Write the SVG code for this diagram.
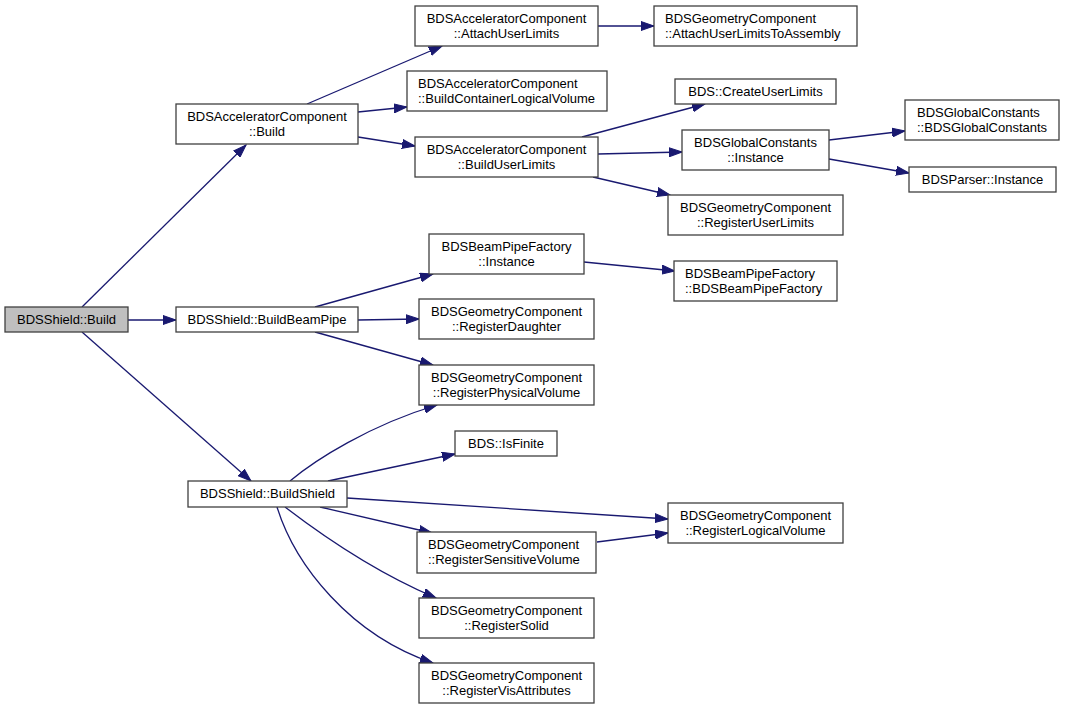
<svg xmlns="http://www.w3.org/2000/svg" width="1065" height="709" viewBox="0 0 1065 709">
<style>
.n rect{fill:#fff;stroke:#404040;stroke-width:1.3}
.n.root rect{fill:#bfbfbf}
.n text{font-family:"Liberation Sans",Arial,sans-serif;font-size:13px;fill:#000}
.c{text-anchor:middle}
.l{text-anchor:start}
.e path{fill:none;stroke:#191970;stroke-width:1.3;marker-end:url(#a)}
</style>
<defs>
<marker id="a" markerWidth="14" markerHeight="10" refX="13" refY="5" orient="auto" markerUnits="userSpaceOnUse">
<path d="M0,0.5 L13,5 L0,9.5 z" fill="#191970" stroke="#191970" stroke-width="1"/>
</marker>
</defs>
<rect width="1065" height="709" fill="#fff"/>
<g id="edges" class="e">
<path d="M82,307 L246,145"/>
<path d="M128,320 L176,320"/>
<path d="M82,332 L251,481"/>
<path d="M307,104 L442,46"/>
<path d="M358,112 L407,107"/>
<path d="M358,137 L415,146"/>
<path d="M598,26 L654,26"/>
<path d="M582,137 L705,104"/>
<path d="M598,154 L682,152"/>
<path d="M593,177 L670,195"/>
<path d="M829,140 L905,131"/>
<path d="M829,159 L909,173"/>
<path d="M315,307 L433,274"/>
<path d="M584,262 L675,271"/>
<path d="M358,320 L419,319"/>
<path d="M315,332 L433,365"/>
<path d="M290,481 C315,460 370,425 437,405"/>
<path d="M328,481 L455,454"/>
<path d="M347,498 L668,519"/>
<path d="M320,507 L432,533"/>
<path d="M597,542 L668,533"/>
<path d="M285,507 C315,530 370,570 436,598"/>
<path d="M277,507 C295,565 350,635 433,663"/>
</g>
<g id="n_root" class="n root"><rect x="5" y="307" width="123" height="25"/><text class="c" x="66.5" y="324">BDSShield::Build</text></g>
<g id="n_acc_build" class="n"><rect x="176" y="104" width="182" height="40"/><text class="c" x="267" y="121">BDSAcceleratorComponent</text><text class="c" x="267" y="136">::Build</text></g>
<g id="n_beampipe" class="n"><rect x="176" y="307" width="182" height="25"/><text class="c" x="267" y="324">BDSShield::BuildBeamPipe</text></g>
<g id="n_shield" class="n"><rect x="188" y="481" width="159" height="26"/><text class="c" x="267.5" y="498">BDSShield::BuildShield</text></g>
<g id="n_attach" class="n"><rect x="415" y="6" width="183" height="40"/><text class="c" x="506.5" y="23">BDSAcceleratorComponent</text><text class="c" x="506.5" y="38">::AttachUserLimits</text></g>
<g id="n_container" class="n"><rect x="407" y="71" width="200" height="40"/><text class="l" x="418" y="88">BDSAcceleratorComponent</text><text class="l" x="418" y="103">::BuildContainerLogicalVolume</text></g>
<g id="n_buildul" class="n"><rect x="415" y="137" width="183" height="40"/><text class="c" x="506.5" y="154">BDSAcceleratorComponent</text><text class="c" x="506.5" y="169">::BuildUserLimits</text></g>
<g id="n_attachasm" class="n"><rect x="654" y="6" width="203" height="40"/><text class="l" x="665" y="23">BDSGeometryComponent</text><text class="l" x="665" y="38">::AttachUserLimitsToAssembly</text></g>
<g id="n_createul" class="n"><rect x="675" y="79" width="161" height="25"/><text class="c" x="755.5" y="96">BDS::CreateUserLimits</text></g>
<g id="n_gcinst" class="n"><rect x="682" y="130" width="147" height="40"/><text class="c" x="755.5" y="147">BDSGlobalConstants</text><text class="c" x="755.5" y="162">::Instance</text></g>
<g id="n_regul" class="n"><rect x="668" y="195" width="175" height="40"/><text class="c" x="755.5" y="212">BDSGeometryComponent</text><text class="c" x="755.5" y="227">::RegisterUserLimits</text></g>
<g id="n_gcgc" class="n"><rect x="905" y="100" width="154" height="40"/><text class="l" x="917" y="117">BDSGlobalConstants</text><text class="l" x="917" y="132">::BDSGlobalConstants</text></g>
<g id="n_parser" class="n"><rect x="909" y="167" width="147" height="25"/><text class="c" x="982.5" y="184">BDSParser::Instance</text></g>
<g id="n_bpfinst" class="n"><rect x="429" y="234" width="155" height="40"/><text class="c" x="506.5" y="251">BDSBeamPipeFactory</text><text class="c" x="506.5" y="266">::Instance</text></g>
<g id="n_bpfbpf" class="n"><rect x="674" y="261" width="163" height="40"/><text class="l" x="685" y="278">BDSBeamPipeFactory</text><text class="l" x="685" y="293">::BDSBeamPipeFactory</text></g>
<g id="n_regdau" class="n"><rect x="419" y="299" width="175" height="40"/><text class="c" x="506.5" y="316">BDSGeometryComponent</text><text class="c" x="506.5" y="331">::RegisterDaughter</text></g>
<g id="n_regpv" class="n"><rect x="419" y="365" width="175" height="40"/><text class="c" x="506.5" y="382">BDSGeometryComponent</text><text class="c" x="506.5" y="397">::RegisterPhysicalVolume</text></g>
<g id="n_isfinite" class="n"><rect x="455" y="431" width="102" height="25"/><text class="c" x="506" y="448">BDS::IsFinite</text></g>
<g id="n_reglv" class="n"><rect x="668" y="503" width="175" height="40"/><text class="c" x="755.5" y="520">BDSGeometryComponent</text><text class="c" x="755.5" y="535">::RegisterLogicalVolume</text></g>
<g id="n_regsv" class="n"><rect x="417" y="532" width="179" height="41"/><text class="l" x="428" y="549">BDSGeometryComponent</text><text class="l" x="428" y="564">::RegisterSensitiveVolume</text></g>
<g id="n_regsolid" class="n"><rect x="419" y="598" width="175" height="40"/><text class="c" x="506.5" y="615">BDSGeometryComponent</text><text class="c" x="506.5" y="630">::RegisterSolid</text></g>
<g id="n_regvis" class="n"><rect x="419" y="663" width="175" height="40"/><text class="c" x="506.5" y="680">BDSGeometryComponent</text><text class="c" x="506.5" y="695">::RegisterVisAttributes</text></g>
</svg>
